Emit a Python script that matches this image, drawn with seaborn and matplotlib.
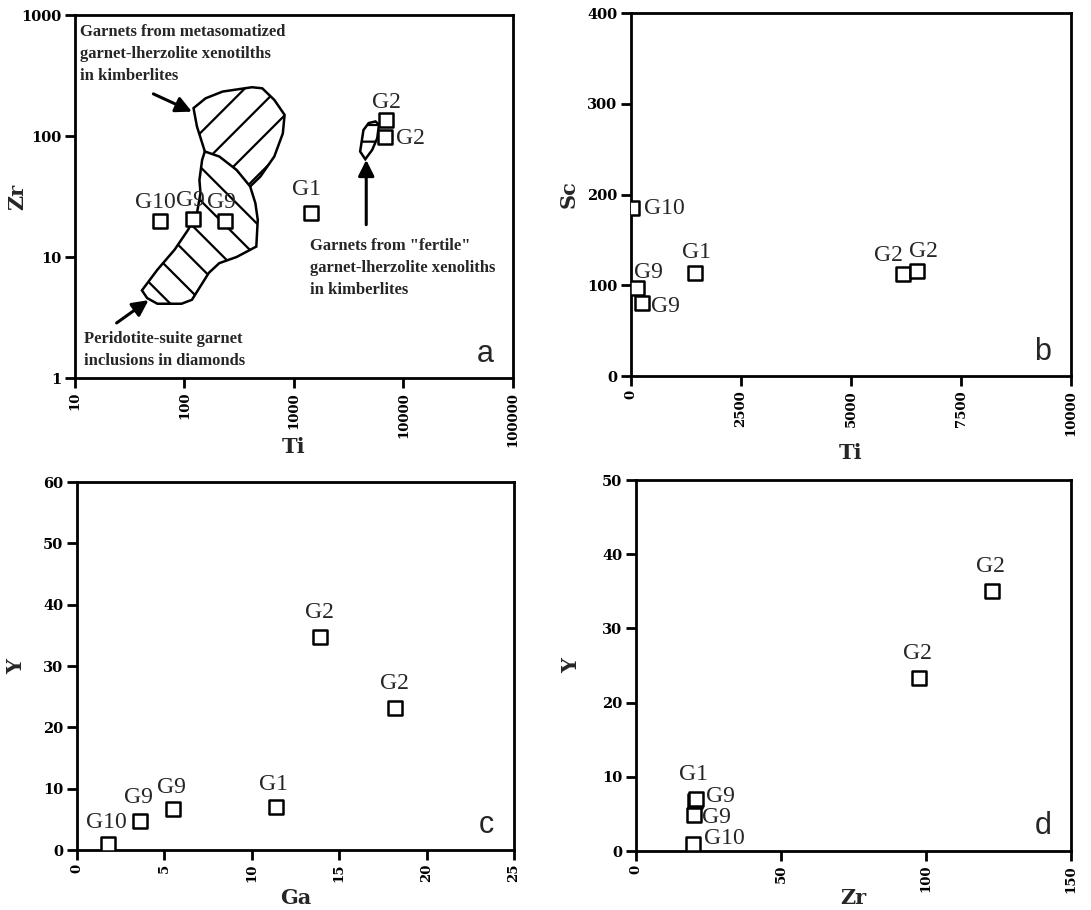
import matplotlib
matplotlib.use("Agg")
import matplotlib.pyplot as plt
import numpy as np
import pandas as pd
import seaborn as sns
from matplotlib.ticker import NullLocator

sns.set_theme(style="ticks")
plt.rcParams["font.family"] = ["DejaVu Serif"]
plt.rcParams["hatch.linewidth"] = 1.6

# --- data -----------------------------------------------------------------
samples = ["G10", "G9", "G9", "G1", "G2", "G2"]

a_ti = [60, 120, 234, 1440, 6900, 6750]
a_zr = [20, 20.5, 20, 23, 135, 98]
b_ti = [20, 130, 240, 1460, 6180, 6500]
b_sc = [185, 97, 80, 113, 112, 116]
c_ga = [1.8, 3.6, 5.5, 11.4, 13.9, 18.2]
c_y = [1.0, 4.8, 6.7, 7.0, 34.7, 23.2]
d_zr = [19.7, 20.3, 20.0, 20.6, 122.6, 97.4]
d_y = [0.9, 6.7, 4.9, 7.0, 35.0, 23.3]

# fields in panel a (Ti, Zr)
meta_ti = [153.5, 130, 121, 156, 223, 413, 513, 661, 821, 791, 661, 494, 398]
meta_zr = [74.5, 120, 170, 205, 233, 253, 248, 199, 149.5, 105, 67.7, 46.3, 38.3]
incl_ti = [153.5, 208, 299, 398, 444, 467, 453, 299, 208, 167, 117, 94, 56.6,
           45.6, 40.9, 56.6, 81.3, 108, 130, 140, 137, 145]
incl_zr = [74.5, 67.7, 52.5, 38.3, 27.9, 20.3, 12.2, 10, 8.9, 7.4, 4.43, 4.11,
           4.11, 4.58, 5.3, 7.85, 11.5, 16.8, 23, 33.7, 43.4, 63.5]
fert_ti = [4020, 4310, 4810, 5560, 5970, 5760, 5180, 4480]
fert_zr = [74.5, 112, 128, 132, 124, 96, 76.8, 64.3]

# arrows: (tail, head) in data coords of panel a
arrows = [((52, 223), (117, 159)),
          ((24, 2.85), (47, 4.4)),
          ((4570, 18.5), (4570, 63.5))]

a_xticks = [10, 100, 1000, 10000, 100000]
a_yticks = [1, 10, 100, 1000]
b_xticks = [0, 2500, 5000, 7500, 10000]
b_yticks = [0, 100, 200, 300, 400]
c_xticks = [0, 5, 10, 15, 20, 25]
c_yticks = [0, 10, 20, 30, 40, 50, 60]
d_xticks = [0, 50, 100, 150]
d_yticks = [0, 10, 20, 30, 40, 50]

# label offsets (px) and alignment for each point label
a_lab = [(-5, 13, "center", "baseline"), (-3, 13, "center", "baseline"),
         (-3, 13, "center", "baseline"), (-5, 18, "center", "baseline"),
         (1, 12, "center", "baseline"), (11, -1, "left", "center")]
b_lab = [(12, 0, "left", "center"), (12, 10, "center", "baseline"),
         (9, -3, "left", "center"), (1, 15, "center", "baseline"),
         (-15, 13, "center", "baseline"), (6, 14, "center", "baseline")]
c_lab = [(-2, 16, "center", "baseline"), (-2, 18, "center", "baseline"),
         (-2, 16, "center", "baseline"), (-3, 17, "center", "baseline"),
         (-1, 19, "center", "baseline"), (-1, 19, "center", "baseline")]
d_lab = [(11, 6, "left", "center"), (11, 5, "left", "center"),
         (8, -3, "left", "center"), (-2, 19, "center", "baseline"),
         (-1, 19, "center", "baseline"), (-1, 19, "center", "baseline")]

TICK = dict(family="DejaVu Serif", weight="bold")
LAB = dict(family="DejaVu Serif", weight="bold", size=15)
PT = dict(family="Liberation Serif", size=17)
NOTE = dict(family="Liberation Serif", weight="bold", size=12, linespacing=1.5)


def style(ax, xt, yt, xlab, ylab, letter, xlim, ylim, xlab_y, ylab_x):
    ax.set_xlim(*xlim)
    ax.set_ylim(*ylim)
    ax.set_xticks(xt)
    ax.set_xticklabels([str(v) for v in xt], rotation=90, fontsize=9.5, **TICK)
    ax.set_yticks(yt)
    ax.set_yticklabels([str(v) for v in yt], fontsize=10.5, **TICK)
    ax.xaxis.set_minor_locator(NullLocator())
    ax.yaxis.set_minor_locator(NullLocator())
    ax.tick_params(direction="out", length=7, width=2, pad=3, colors="black")
    for sp in ax.spines.values():
        sp.set_linewidth(2)
        sp.set_color("black")
    ax.set_xlabel(xlab, **LAB)
    ax.set_ylabel(ylab, **LAB)
    # label anchors: top edge of x label, right edge of y label
    ax.xaxis.set_label_coords(0.5, xlab_y)
    ax.yaxis.set_label_coords(ylab_x, 0.5)
    ax.grid(False)
    ax.text(0.936, 0.045, letter, transform=ax.transAxes, ha="center",
            va="baseline", family="Liberation Sans", fontsize=22)


def points(ax, x, y, labs):
    df = pd.DataFrame({"x": x, "y": y, "s": samples})
    sns.scatterplot(data=df, x="x", y="y", marker="s", s=90, color="white",
                    edgecolor="black", linewidth=1.8, ax=ax, zorder=6)
    for (xi, yi, name), (dx, dy, ha, va) in zip(zip(x, y, samples), labs):
        ax.annotate(name, (xi, yi), xytext=(dx * 0.72, dy * 0.72),
                    textcoords="offset points", ha=ha, va=va, zorder=7, **PT)


fig = plt.figure(figsize=(10.91, 9.10), dpi=100)
ax_a = fig.add_axes([0.0687, 0.5846, 0.4015, 0.3989])
ax_b = fig.add_axes([0.5784, 0.5868, 0.4033, 0.3989])
ax_c = fig.add_axes([0.0706, 0.0659, 0.4005, 0.4044])
ax_d = fig.add_axes([0.5830, 0.0648, 0.3987, 0.4077])

# panel a: log-log with fields
ax_a.set_xscale("log")
ax_a.set_yscale("log")
ax_a.fill(meta_ti, meta_zr, facecolor="white", edgecolor="black", hatch="/",
          lw=1.8, zorder=2)
ax_a.fill(incl_ti, incl_zr, facecolor="white", edgecolor="black", hatch="\\",
          lw=1.8, zorder=3)
ax_a.fill(fert_ti, fert_zr, facecolor="white", edgecolor="black", hatch="-",
          lw=1.8, zorder=3)
for tail, head in arrows:
    ax_a.annotate("", xy=head, xytext=tail, zorder=4,
                  arrowprops=dict(arrowstyle="-|>", color="black", lw=2.2,
                                  mutation_scale=24, shrinkA=0, shrinkB=0))
ax_a.text(0.012, 0.975, "Garnets from metasomatized\ngarnet-lherzolite xenotilths\nin kimberlites",
          transform=ax_a.transAxes, ha="left", va="top", **NOTE)
ax_a.text(0.02, 0.025, "Peridotite-suite garnet\ninclusions in diamonds",
          transform=ax_a.transAxes, ha="left", va="bottom", **NOTE)
ax_a.text(0.537, 0.385, 'Garnets from "fertile"\ngarnet-lherzolite xenoliths\nin kimberlites',
          transform=ax_a.transAxes, ha="left", va="top", **NOTE)
points(ax_a, a_ti, a_zr, a_lab)
style(ax_a, a_xticks, a_yticks, "Ti", "Zr", "a", (10, 100000), (1, 1000),
      -0.163, -0.11)

points(ax_b, b_ti, b_sc, b_lab)
style(ax_b, b_xticks, b_yticks, "Ti", "Sc", "b", (0, 10000), (0, 400),
      -0.185, -0.12)

points(ax_c, c_ga, c_y, c_lab)
style(ax_c, c_xticks, c_yticks, "Ga", "Y", "c", (0, 25), (0, 60),
      -0.102, -0.117)

points(ax_d, d_zr, d_y, d_lab)
style(ax_d, d_xticks, d_yticks, "Zr", "Y", "d", (0, 150), (0, 50),
      -0.1, -0.126)

fig.savefig("out.png", dpi=100, facecolor="white")
